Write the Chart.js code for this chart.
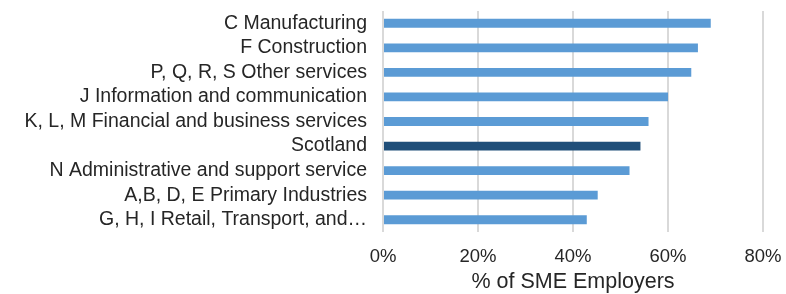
<!DOCTYPE html>
<html>
<head>
<meta charset="utf-8">
<script src="https://cdn.jsdelivr.net/npm/chart.js@4"></script>
<style>
  html, body { margin: 0; padding: 0; background: #fff; }
  #wrap { width: 786px; height: 294px; }
</style>
</head>
<body>
<div id="wrap"><canvas id="smeChart"></canvas></div>
<script>
// SME employers by sector, % share
const sectors = [
  'C Manufacturing',
  'F Construction',
  'P, Q, R, S Other services',
  'J Information and communication',
  'K, L, M Financial and business services',
  'Scotland',
  'N Administrative and support service',
  'A,B, D, E Primary Industries',
  'G, H, I Retail, Transport, and\u2026'
];
const shares = [69.0, 66.3, 64.9, 60.0, 55.9, 54.2, 51.9, 45.2, 42.9];
const xTicks = [0, 20, 40, 60, 80];

const barColors = sectors.map((s) => (s === 'Scotland' ? '#1f4e79' : '#5b9bd5'));
const font = 'Liberation Sans, Arial, sans-serif';

new Chart(document.getElementById('smeChart'), {
  type: 'bar',
  data: {
    labels: sectors,
    datasets: [{
      data: shares,
      backgroundColor: barColors,
      barPercentage: 0.36,
      categoryPercentage: 1
    }]
  },
  options: {
    indexAxis: 'y',
    responsive: true,
    maintainAspectRatio: false,
    animation: false,
    layout: { padding: { top: 11, right: 23, bottom: 0, left: 0 } },
    plugins: { legend: { display: false }, tooltip: { enabled: false } },
    scales: {
      x: {
        min: xTicks[0],
        max: xTicks[xTicks.length - 1],
        afterBuildTicks: (scale) => { scale.ticks = xTicks.map((v) => ({ value: v })); },
        afterFit: (scale) => {
          scale.height = 62;
          scale.paddingLeft = 0;
          scale.paddingRight = 0;
        },
        ticks: {
          color: '#262626',
          font: { family: font, size: 18.5 },
          padding: 14,
          maxRotation: 0,
          callback: (v) => v + '%'
        },
        grid: { color: '#d9d9d9', lineWidth: 2, drawTicks: false },
        border: { display: false },
        title: {
          display: true,
          text: '% of SME Employers',
          color: '#262626',
          font: { family: font, size: 21.5, lineHeight: 1.1 },
          padding: { top: 0, bottom: 0 }
        }
      },
      y: {
        afterFit: (scale) => {
          scale.width = 383;
          scale.paddingTop = 0;
          scale.paddingBottom = 0;
        },
        ticks: {
          color: '#262626',
          font: { family: font, size: 19.5 },
          padding: 16,
          autoSkip: false
        },
        grid: { display: false, drawTicks: false },
        border: { display: false }
      }
    }
  }
});
</script>
</body>
</html>
